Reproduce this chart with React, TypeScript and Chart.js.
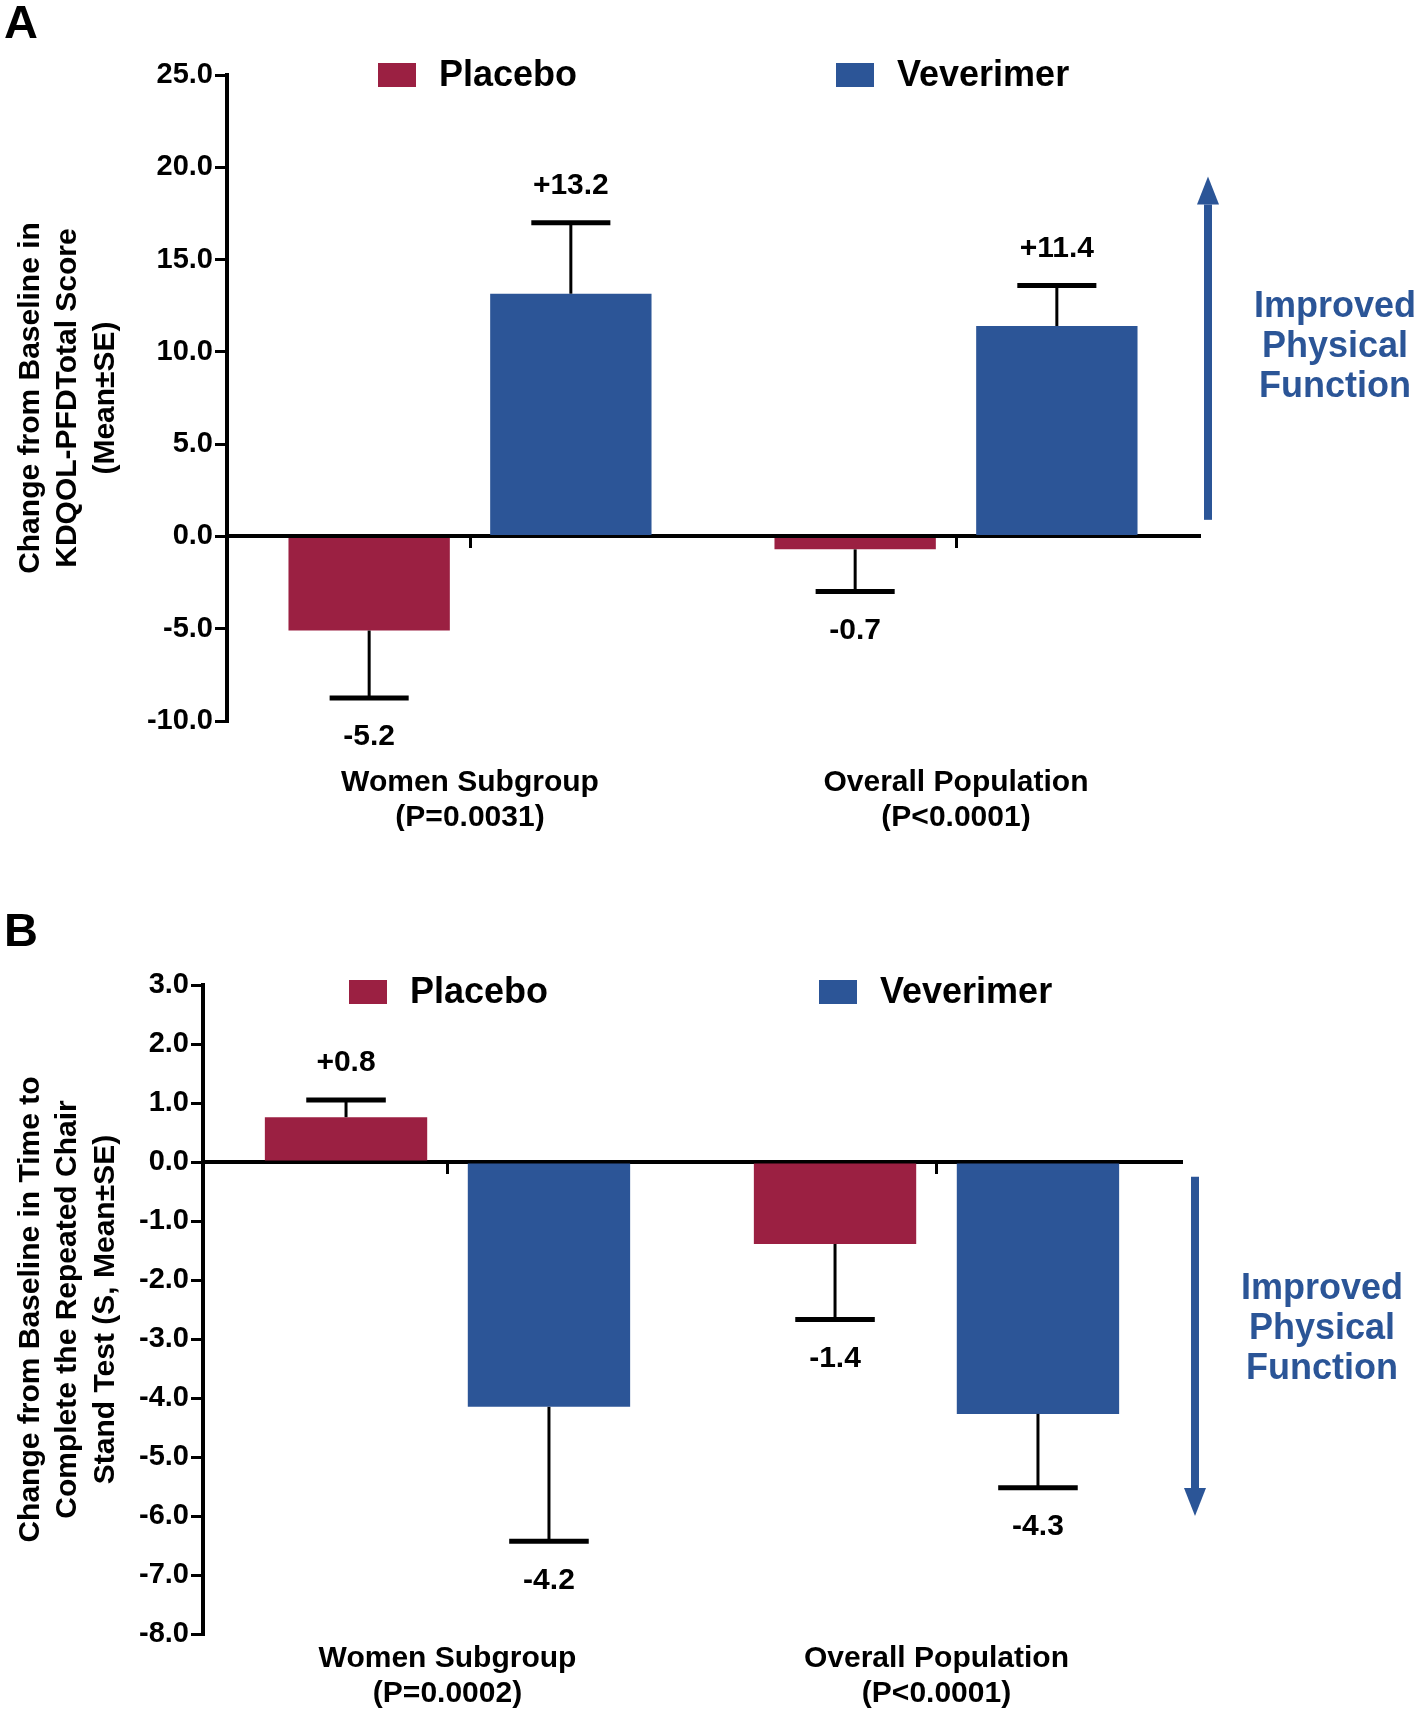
import React, { useEffect, useRef } from "react";
import { Chart, registerables } from "chart.js";
Chart.register(...registerables);

// ---------- DATA ----------
const seriesNames = ["Placebo", "Veverimer"];

// Panel A
const categoriesA = [["Women Subgroup", "(P=0.0031)"], ["Overall Population", "(P<0.0001)"]];
const placeboA = [-5.1, -0.7];
const veverimerA = [13.15, 11.4];
const placeboSEA = [3.65, 2.28];
const veverimerSEA = [3.85, 2.2];
const placeboLabelsA = ["-5.2", "-0.7"];
const veverimerLabelsA = ["+13.2", "+11.4"];
const yRangeA = [-10, 25, 5];
const yTitleA = ["Change from Baseline in", "KDQOL-PFDTotal Score", "(Mean\u00b1SE)"];

// Panel B
const categoriesB = [["Women Subgroup", "(P=0.0002)"], ["Overall Population", "(P<0.0001)"]];
const placeboB = [0.76, -1.39];
const veverimerB = [-4.15, -4.27];
const placeboSEB = [0.29, 1.28];
const veverimerSEB = [2.28, 1.25];
const placeboLabelsB = ["+0.8", "-1.4"];
const veverimerLabelsB = ["-4.2", "-4.3"];
const yRangeB = [-8, 3, 1];
const yTitleB = ["Change from Baseline in Time to", "Complete the Repeated Chair", "Stand Test (S, Mean\u00b1SE)"];

const noteLines = ["Improved", "Physical", "Function"];

// ---------- STYLE ----------
const RED = "#9B2042";
const BLUE = "#2C5597";
const NOTE_BLUE = "#2B5597";
const FONT = "'Liberation Sans', Arial, Helvetica, sans-serif";

type Panel = {
  top: number;
  height: number;
  pad: { left: number; right: number; top: number; bottom: number };
  yW: number;
  xlH: number;
  xlPad: number;
  yRange: number[];
  categories: string[][];
  placebo: number[];
  veverimer: number[];
  placeboSE: number[];
  veverimerSE: number[];
  placeboLabels: string[];
  veverimerLabels: string[];
  yTitle: string[];
  letter: string;
  letterY: number;
  legendX: number[];
  legendDy: number;
  arrow: number[]; // from, to (data values)
  arrowDx: number;
  noteValue: number;
  noteDx: number;
};

const panels: Panel[] = [
  {
    top: 0,
    height: 840,
    pad: { left: 127, right: 217, top: 75, bottom: 9 },
    yW: 100,
    xlH: 110,
    xlPad: 44,
    yRange: yRangeA,
    categories: categoriesA,
    placebo: placeboA,
    veverimer: veverimerA,
    placeboSE: placeboSEA,
    veverimerSE: veverimerSEA,
    placeboLabels: placeboLabelsA,
    veverimerLabels: veverimerLabelsA,
    yTitle: yTitleA,
    letter: "A",
    letterY: 2,
    legendX: [151, 609],
    legendDy: 0,
    arrow: [0.9, 19.5],
    arrowDx: 9,
    noteValue: 10.25,
    noteDx: 136,
  },
  {
    top: 840,
    height: 872,
    pad: { left: 103, right: 235, top: 145, bottom: 0 },
    yW: 100,
    xlH: 78,
    xlPad: 7,
    yRange: yRangeB,
    categories: categoriesB,
    placebo: placeboB,
    veverimer: veverimerB,
    placeboSE: placeboSEB,
    veverimerSE: veverimerSEB,
    placeboLabels: placeboLabelsB,
    veverimerLabels: veverimerLabelsB,
    yTitle: yTitleB,
    letter: "B",
    letterY: 70,
    legendX: [146, 616],
    legendDy: 7,
    arrow: [-0.25, -6.0],
    arrowDx: 14,
    noteValue: -2.83,
    noteDx: 141,
  },
];

function makeChart(canvas: HTMLCanvasElement, p: Panel) {
  const extras = {
    id: "extras",
    afterDraw(chart: any) {
      const ctx = chart.ctx as CanvasRenderingContext2D;
      const area = chart.chartArea;
      const ys = chart.scales.y;
      ctx.save();
      // panel letter
      ctx.fillStyle = "#000";
      ctx.font = `bold 47px ${FONT}`;
      ctx.textAlign = "left";
      ctx.textBaseline = "top";
      ctx.fillText(p.letter, 4, p.letterY);

      // y-axis title (rotated multi-line)
      const cy = (area.top + area.bottom) / 2;
      const xs = [31, 68, 106];
      ctx.font = `bold 30px ${FONT}`;
      ctx.textAlign = "center";
      ctx.textBaseline = "middle";
      p.yTitle.forEach((line, i) => {
        ctx.save();
        ctx.translate(xs[i], cy);
        ctx.rotate(-Math.PI / 2);
        ctx.fillText(line, 0, 0);
        ctx.restore();
      });

      // legend
      const colors = [RED, BLUE];
      ctx.font = `bold 36px ${FONT}`;
      ctx.textAlign = "left";
      ctx.textBaseline = "middle";
      chart.data.datasets.forEach((ds: any, i: number) => {
        const bx = area.left + p.legendX[i];
        const by = area.top + p.legendDy;
        ctx.fillStyle = colors[i];
        ctx.fillRect(bx, by - 12, 38, 24);
        ctx.fillStyle = "#000";
        ctx.fillText(ds.label, bx + 61, by + 1);
      });

      // arrow
      const ax = area.right + p.arrowDx;
      const y0 = ys.getPixelForValue(p.arrow[0]);
      const y1 = ys.getPixelForValue(p.arrow[1]);
      const dir = y1 < y0 ? -1 : 1;
      const headLen = 28;
      ctx.fillStyle = NOTE_BLUE;
      const shaftEnd = y1 - dir * headLen;
      ctx.fillRect(ax - 4, Math.min(y0, shaftEnd), 8, Math.abs(shaftEnd - y0));
      ctx.beginPath();
      ctx.moveTo(ax, y1);
      ctx.lineTo(ax - 11, shaftEnd);
      ctx.lineTo(ax + 11, shaftEnd);
      ctx.closePath();
      ctx.fill();

      // note text
      const ny = ys.getPixelForValue(p.noteValue);
      ctx.font = `bold 36px ${FONT}`;
      ctx.textAlign = "center";
      ctx.textBaseline = "middle";
      noteLines.forEach((l, i) => {
        ctx.fillText(l, area.right + p.noteDx, ny + (i - 1) * 40);
      });
      ctx.restore();
    },
    afterDatasetsDraw(chart: any) {
      const ctx = chart.ctx as CanvasRenderingContext2D;
      const ys = chart.scales.y;
      ctx.save();
      chart.data.datasets.forEach((ds: any, di: number) => {
        const meta = chart.getDatasetMeta(di);
        meta.data.forEach((bar: any, i: number) => {
          const v = ds.data[i];
          const se = ds.se[i];
          const end = v >= 0 ? v + se : v - se;
          const yEnd = ys.getPixelForValue(end);
          const half = bar.width * 0.245;
          ctx.strokeStyle = "#000";
          ctx.lineCap = "butt";
          ctx.lineWidth = 3;
          ctx.beginPath();
          ctx.moveTo(bar.x, bar.y);
          ctx.lineTo(bar.x, yEnd);
          ctx.stroke();
          ctx.lineWidth = 5;
          ctx.beginPath();
          ctx.moveTo(bar.x - half, yEnd);
          ctx.lineTo(bar.x + half, yEnd);
          ctx.stroke();
          ctx.fillStyle = "#000";
          ctx.font = `bold 30px ${FONT}`;
          ctx.textAlign = "center";
          ctx.textBaseline = "middle";
          const ly = v >= 0 ? yEnd - 37 : yEnd + 39;
          ctx.fillText(ds.valueLabels[i], bar.x, ly);
        });
      });
      ctx.restore();
    },
  };

  const [yMin, yMax, yStep] = p.yRange;
  return new Chart(canvas, {
    type: "bar",
    data: {
      labels: p.categories,
      datasets: [
        {
          label: seriesNames[0],
          data: p.placebo,
          backgroundColor: RED,
          borderWidth: 0,
          categoryPercentage: 0.83,
          barPercentage: 0.8,
          se: p.placeboSE,
          valueLabels: p.placeboLabels,
        } as any,
        {
          label: seriesNames[1],
          data: p.veverimer,
          backgroundColor: BLUE,
          borderWidth: 0,
          categoryPercentage: 0.83,
          barPercentage: 0.8,
          se: p.veverimerSE,
          valueLabels: p.veverimerLabels,
        } as any,
      ],
    },
    options: {
      responsive: false,
      animation: false,
      events: [],
      layout: { padding: p.pad },
      plugins: { legend: { display: false }, tooltip: { enabled: false }, title: { display: false } },
      scales: {
        x: {
          type: "category",
          position: { y: 0 } as any,
          offset: true,
          z: 1,
          grid: {
            display: true,
            drawOnChartArea: false,
            drawTicks: true,
            tickLength: 10,
            offset: false,
            color: "#000",
            lineWidth: 3,
          },
          border: { display: true, color: "#000", width: 4 },
          ticks: { display: false },
        },
        xl: {
          type: "category",
          position: "bottom",
          offset: true,
          grid: { display: false, drawTicks: false },
          border: { display: false },
          ticks: {
            color: "#000",
            font: { family: FONT, size: 30, weight: "bold", lineHeight: 1.17 },
            padding: p.xlPad,
            maxRotation: 0,
            autoSkip: false,
          },
          afterFit: (s: any) => {
            s.height = p.xlH;
          },
        } as any,
        y: {
          min: yMin,
          max: yMax,
          z: 1,
          ticks: {
            stepSize: yStep,
            color: "#000",
            font: { family: FONT, size: 29, weight: "bold" },
            padding: 2,
            callback: (v: any) => Number(v).toFixed(1),
          },
          grid: {
            display: true,
            drawOnChartArea: false,
            drawTicks: true,
            tickLength: 12,
            color: "#000",
            lineWidth: 3,
          },
          border: { display: true, color: "#000", width: 4 },
          afterFit: (s: any) => {
            s.width = p.yW;
          },
        } as any,
      },
    },
    plugins: [extras],
  } as any);
}

function Panel({ p }: { p: Panel }) {
  const ref = useRef<HTMLCanvasElement>(null);
  useEffect(() => {
    if (!ref.current) return;
    const c = makeChart(ref.current, p);
    return () => c.destroy();
  }, [p]);
  return (
    <canvas
      ref={ref}
      width={1416}
      height={p.height}
      style={{ position: "absolute", left: 0, top: p.top, width: 1416, height: p.height }}
    />
  );
}

export default function App() {
  return (
    <div style={{ position: "absolute", left: 0, top: 0, width: 1416, height: 1712, background: "#fff" }}>
      {panels.map((p, i) => (
        <Panel key={i} p={p} />
      ))}
    </div>
  );
}
